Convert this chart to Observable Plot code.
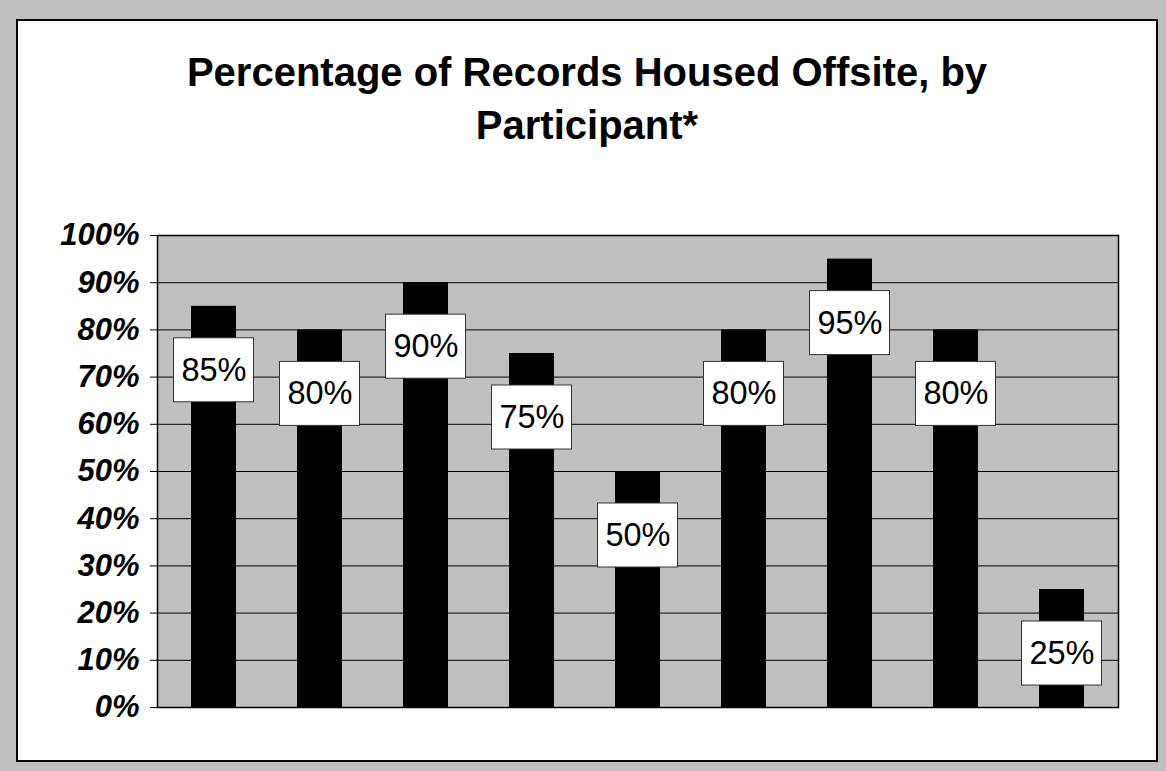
<!DOCTYPE html>
<html>
<head>
<meta charset="utf-8">
<script src="https://cdn.jsdelivr.net/npm/d3@7"></script>
<script src="https://cdn.jsdelivr.net/npm/@observablehq/plot@0.6"></script>
<style>
  html, body { margin: 0; padding: 0; background: #C0C0C0; }
  #page { position: relative; width: 1166px; height: 771px; background: #C0C0C0; overflow: hidden; }
  #box { position: absolute; left: 16px; top: 19px; width: 1142px; height: 743px; box-sizing: border-box; border: 2px solid #000; background: #fff; }
  #title { position: absolute; left: 16px; width: 1142px; top: 46px; text-align: center;
           font-family: "Liberation Sans", Arial, sans-serif; font-weight: bold; font-size: 40px; line-height: 53px; color: #000; }
  #chart { position: absolute; left: 17px; top: 170px; }
</style>
</head>
<body>
<div id="page">
  <div id="box"></div>
  <div id="title">Percentage of Records Housed Offsite, by<br>Participant*</div>
  <div id="chart"></div>
</div>
<script>
const participants = ["P1", "P2", "P3", "P4", "P5", "P6", "P7", "P8", "P9"];
const offsitePct = [85, 80, 90, 75, 50, 80, 95, 80, 25];
const yTicks = [0, 10, 20, 30, 40, 50, 60, 70, 80, 90, 100];

const data = participants.map((name, i) => ({name, value: offsitePct[i]}));

const chart = Plot.plot({
  width: 1140,
  height: 580,
  marginLeft: 140,
  marginRight: 39,
  marginTop: 65,
  marginBottom: 43,
  style: {background: "transparent", fontFamily: "'Liberation Sans', Arial, sans-serif", overflow: "visible", color: "#000"},
  x: {domain: participants, paddingInner: 0.58, paddingOuter: 0.29, axis: null},
  y: {domain: [0, 100], axis: null},
  marks: [
    Plot.frame({fill: "#C0C0C0", stroke: "none"}),
    Plot.ruleY(yTicks, {stroke: "#000", strokeWidth: 1}),
    Plot.axisY({ticks: yTicks, tickSize: 7, tickPadding: 11, tickFormat: d => d + "%", label: null,
                fontSize: 31, fontWeight: "bold", fontStyle: "italic"}),
    Plot.barY(data, {x: "name", y: "value", fill: "#000"}),
    Plot.frame({stroke: "#000", strokeWidth: 1.5}),
    Plot.barY(data, {x: "name", y1: "value", y2: "value", fill: "#fff", stroke: "#333", strokeWidth: 1,
                     insetLeft: -17.5, insetRight: -17.5, insetTop: 32, insetBottom: -96}),
    Plot.text(data, {x: "name", y: "value", text: d => d.value + "%", dy: 64, fontSize: 32.5, fill: "#000"})
  ]
});
document.getElementById("chart").appendChild(chart);
</script>
</body>
</html>
